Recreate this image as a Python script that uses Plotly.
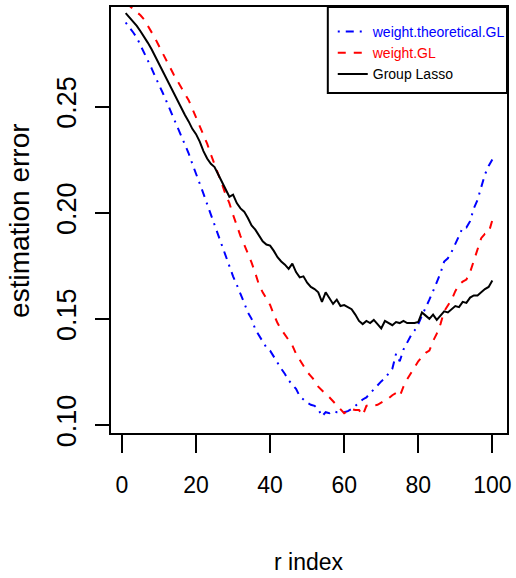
import plotly.graph_objects as go

r_index = list(range(1, 101))

weight_theoretical_GL = [
    0.2896, 0.2875, 0.2850, 0.2825, 0.2790, 0.2755, 0.2715, 0.2680, 0.2640, 0.2605,
    0.2565, 0.2525, 0.2485, 0.2440, 0.2400, 0.2360, 0.2320, 0.2280, 0.2230, 0.2185,
    0.2140, 0.2090, 0.2040, 0.1990, 0.1945, 0.1895, 0.1850, 0.1795, 0.1750, 0.1700,
    0.1660, 0.1620, 0.1575, 0.1530, 0.1500, 0.1450, 0.1420, 0.1390, 0.1365, 0.1350,
    0.1320, 0.1295, 0.1265, 0.1240, 0.1210, 0.1190, 0.1170, 0.1135, 0.1120, 0.1105,
    0.1095, 0.1090, 0.1075, 0.1040, 0.1060, 0.1055, 0.1065, 0.1060, 0.1060, 0.1060,
    0.1065, 0.1075, 0.1090, 0.1105, 0.1120, 0.1130, 0.1150, 0.1165, 0.1185, 0.1205,
    0.1220, 0.1240, 0.1265, 0.1335, 0.1300, 0.1355, 0.1390, 0.1420, 0.1445, 0.1475,
    0.1515, 0.1550, 0.1590, 0.1630, 0.1670, 0.1715, 0.1770, 0.1785, 0.1815, 0.1850,
    0.1890, 0.1930, 0.1930, 0.1960, 0.2020, 0.2060, 0.2120, 0.2180, 0.2220, 0.2250,
]

weight_GL = [
    0.2985, 0.2975, 0.2960, 0.2945, 0.2930, 0.2910, 0.2880, 0.2855, 0.2820, 0.2785,
    0.2750, 0.2715, 0.2685, 0.2650, 0.2620, 0.2590, 0.2560, 0.2530, 0.2490, 0.2450,
    0.2410, 0.2370, 0.2325, 0.2275, 0.2230, 0.2185, 0.2135, 0.2085, 0.2045, 0.1990,
    0.1935, 0.1890, 0.1850, 0.1810, 0.1765, 0.1715, 0.1660, 0.1625, 0.1595, 0.1565,
    0.1520, 0.1480, 0.1450, 0.1425, 0.1395, 0.1375, 0.1335, 0.1305, 0.1275, 0.1250,
    0.1230, 0.1210, 0.1180, 0.1160, 0.1145, 0.1130, 0.1110, 0.1095, 0.1070, 0.1055,
    0.1065, 0.1075, 0.1070, 0.1070, 0.1045, 0.1090, 0.1095, 0.1090, 0.1095, 0.1105,
    0.1115, 0.1125, 0.1140, 0.1150, 0.1135, 0.1180, 0.1215, 0.1245, 0.1275, 0.1300,
    0.1320, 0.1340, 0.1350, 0.1395, 0.1430, 0.1475, 0.1535, 0.1565, 0.1590, 0.1630,
    0.1660, 0.1675, 0.1685, 0.1720, 0.1775, 0.1830, 0.1880, 0.1900, 0.1905, 0.1965,
]

group_lasso = [
    0.2940, 0.2920, 0.2905, 0.2880, 0.2855, 0.2830, 0.2800, 0.2770, 0.2735, 0.2705,
    0.2670, 0.2635, 0.2600, 0.2565, 0.2530, 0.2495, 0.2460, 0.2430, 0.2395, 0.2370,
    0.2335, 0.2290, 0.2255, 0.2230, 0.2215, 0.2180, 0.2145, 0.2110, 0.2075, 0.2085,
    0.2045, 0.2020, 0.2005, 0.1975, 0.1940, 0.1920, 0.1895, 0.1865, 0.1850, 0.1845,
    0.1820, 0.1790, 0.1770, 0.1755, 0.1735, 0.1760, 0.1720, 0.1695, 0.1700, 0.1670,
    0.1650, 0.1640, 0.1625, 0.1580, 0.1625, 0.1600, 0.1570, 0.1590, 0.1560, 0.1565,
    0.1555, 0.1545, 0.1520, 0.1490, 0.1475, 0.1490, 0.1480, 0.1495, 0.1475, 0.1455,
    0.1490, 0.1480, 0.1470, 0.1485, 0.1480, 0.1490, 0.1480, 0.1480, 0.1480, 0.1485,
    0.1530, 0.1515, 0.1500, 0.1520, 0.1495, 0.1515, 0.1535, 0.1530, 0.1545, 0.1560,
    0.1555, 0.1580, 0.1575, 0.1600, 0.1610, 0.1610, 0.1625, 0.1640, 0.1650, 0.1680,
]

x_ticks = [0, 20, 40, 60, 80, 100]
y_ticks = [0.10, 0.15, 0.20, 0.25]
y_tick_text = ["0.10", "0.15", "0.20", "0.25"]

SANS = "Liberation Sans, Arial, sans-serif"

fig = go.Figure()
fig.add_trace(go.Scatter(
    x=r_index, y=weight_theoretical_GL, mode="lines",
    name="<span style='color:#0000ff'>weight.theoretical.GL</span>",
    line=dict(color="#0000ff", width=2, dash="2px,6px,8px,6px"),
))
fig.add_trace(go.Scatter(
    x=r_index, y=weight_GL, mode="lines",
    name="<span style='color:#ff0000'>weight.GL</span>",
    line=dict(color="#ff0000", width=2, dash="8px,8px"),
))
fig.add_trace(go.Scatter(
    x=r_index, y=group_lasso, mode="lines",
    name="Group Lasso",
    line=dict(color="#000000", width=2),
))

# plot area in pixels: x 111..511, y 7..433
fig.update_layout(
    width=516, height=578,
    margin=dict(l=111, r=5, t=7, b=145),
    paper_bgcolor="white", plot_bgcolor="white",
    showlegend=True,
    legend=dict(
        x=(335 - 111) / 400, y=1 - 9 / 426, xanchor="left", yanchor="top",
        borderwidth=0, bgcolor="rgba(0,0,0,0)",
        font=dict(family=SANS, size=14, color="black"),
        itemwidth=30, tracegroupgap=0,
    ),
    shapes=[
        dict(type="rect", xref="paper", yref="paper",
             x0=(330 - 111) / 400, x1=1, y0=(433 - 93) / 426, y1=1,
             line=dict(color="black", width=2), fillcolor="rgba(0,0,0,0)",
             layer="above"),
    ],
    xaxis=dict(
        range=[-2.96, 103.96], tickvals=x_ticks, ticktext=[str(v) for v in x_ticks],
        showgrid=False, zeroline=False, showline=True, mirror=True,
        linecolor="black", linewidth=2, ticks="outside", ticklen=18, tickwidth=2,
        tickcolor="black", tickfont=dict(family=SANS, size=23, color="black"),
        ticklabelstandoff=12, ticklabeloverflow="allow",
    ),
    yaxis=dict(
        range=[0.0962, 0.2969], tickvals=y_ticks, ticktext=y_tick_text,
        showgrid=False, zeroline=False, showline=True, mirror=True,
        linecolor="black", linewidth=2, ticks="outside", ticklen=14, tickwidth=2,
        tickcolor="black", tickangle=-90,
        tickfont=dict(family=SANS, size=27, color="black"),
        ticklabelstandoff=8,
    ),
    annotations=[
        dict(text="estimation error", xref="paper", yref="paper",
             x=(18 - 111) / 400, y=0.5, xanchor="center", yanchor="middle",
             textangle=-90, showarrow=False,
             font=dict(family=SANS, size=28, color="black")),
        dict(text="r index", xref="paper", yref="paper",
             x=0.5, y=(433 - 562) / 426, xanchor="center", yanchor="middle",
             showarrow=False,
             font=dict(family=SANS, size=23, color="black")),
    ],
)

fig.write_html("out.html")
